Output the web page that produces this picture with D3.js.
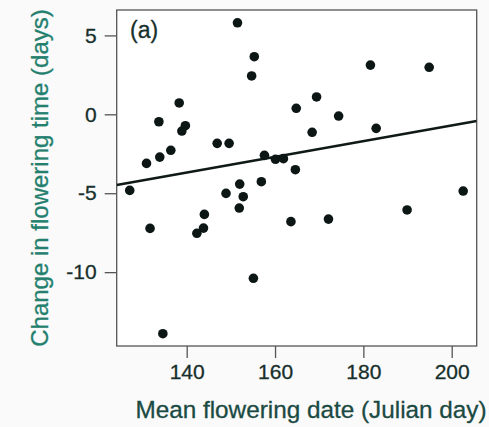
<!DOCTYPE html>
<html>
<head>
<meta charset="utf-8">
<script src="https://cdn.jsdelivr.net/npm/d3@7"></script>
<style>
  html, body { margin: 0; padding: 0; background: #fafafa; }
  svg { display: block; }
  text { font-family: "Liberation Sans", Arial, sans-serif; }
</style>
</head>
<body>
<svg id="chart" width="489" height="427"></svg>
<script>
// Data
const floweringDate = [151.5,155.3,154.7,181.6,194.9,138.3,169.4,164.8,174.4,133.7,139.7,138.9,182.9,168.4,146.9,149.6,136.4,133.9,130.9,157.6,160.1,161.9,164.6,156.9,152.0,148.9,152.8,127.1,202.6,151.9,144.0,143.8,142.3,131.7,163.6,172.1,189.9,155.1,134.6];
const changeDays    = [5.80,3.65,2.43,3.12,2.98,0.72,1.10,0.38,-0.11,-0.47,-0.72,-1.06,-0.89,-1.14,-1.84,-1.84,-2.28,-2.71,-3.11,-2.60,-2.85,-2.81,-3.51,-4.27,-4.42,-5.01,-5.22,-4.82,-4.86,-5.94,-6.34,-7.21,-7.54,-7.23,-6.80,-6.64,-6.06,-10.39,-13.90];
const fitX = [124.15, 205.66];
const fitY = [-4.48, -0.42];
const xTicks = [140, 160, 180, 200];
const yTicks = [5, 0, -5, -10];
const xDomain = [124.15, 205.66];
const yDomain = [-14.68, 6.61];
const panelLabel = "(a)";
const xTitle = "Mean flowering date (Julian day)";
const yTitle = "Change in flowering time (days)";

const svg = d3.select("#chart");
const L = 116.7, R = 476.7, T = 10, B = 346;

const x = d3.scaleLinear().domain(xDomain).range([L, R]);
const y = d3.scaleLinear().domain(yDomain).range([B, T]);

const axisColor = "#555";
const textColor = "#172f2b";

// frame
svg.append("rect").attr("x", L).attr("y", T).attr("width", R - L).attr("height", B - T)
  .attr("fill", "#ffffff").attr("stroke", axisColor).attr("stroke-width", 1.3);

// x axis
const gx = svg.append("g").attr("transform", `translate(0,${B})`)
  .call(d3.axisBottom(x).tickValues(xTicks).tickSize(12).tickSizeOuter(0).tickPadding(6).tickFormat(d3.format("d")));
gx.select(".domain").remove();
gx.selectAll("line").attr("stroke", axisColor).attr("stroke-width", 1.3);
gx.selectAll("text").attr("font-size", 21).attr("fill", textColor).attr("dy", "0.71em")
  .attr("stroke", textColor).attr("stroke-width", 0.3)
  .attr("font-family", "Liberation Sans, Arial, sans-serif");

// y axis
const gy = svg.append("g").attr("transform", `translate(${L},0)`)
  .call(d3.axisLeft(y).tickValues(yTicks).tickSize(12).tickSizeOuter(0).tickPadding(8)
    .tickFormat(d => d < 0 ? "-" + Math.abs(d) : String(d)));
gy.select(".domain").remove();
gy.selectAll("line").attr("stroke", axisColor).attr("stroke-width", 1.3);
gy.selectAll("text").attr("font-size", 21).attr("fill", textColor)
  .attr("stroke", textColor).attr("stroke-width", 0.3)
  .attr("font-family", "Liberation Sans, Arial, sans-serif");

// clip
svg.append("clipPath").attr("id", "clip").append("rect")
  .attr("x", L).attr("y", T).attr("width", R - L).attr("height", B - T);

// fit line
const fit = fitX.map((d, i) => [d, fitY[i]]);
svg.append("path").datum(fit)
  .attr("clip-path", "url(#clip)")
  .attr("d", d3.line().x(d => x(d[0])).y(d => y(d[1])))
  .attr("stroke", "#0f1a18").attr("stroke-width", 2.6).attr("fill", "none");

// points
svg.append("g").selectAll("circle")
  .data(floweringDate.map((d, i) => [d, changeDays[i]]))
  .join("circle")
  .attr("cx", d => x(d[0])).attr("cy", d => y(d[1])).attr("r", 4.8)
  .attr("fill", "#0c1715");

// panel label
svg.append("text").attr("x", 130).attr("y", 38).attr("font-size", 23)
  .attr("fill", textColor).attr("stroke", textColor).attr("stroke-width", 0.3).text(panelLabel);

// axis titles
svg.append("text").attr("x", 311).attr("y", 418).attr("text-anchor", "middle")
  .attr("font-size", 24.3).attr("fill", "#1b4a43").attr("stroke", "#1b4a43").attr("stroke-width", 0.3).text(xTitle);

svg.append("text").attr("transform", `translate(48,178) rotate(-90)`)
  .attr("text-anchor", "middle").attr("font-size", 24).attr("fill", "#24806e")
  .attr("stroke", "#24806e").attr("stroke-width", 0.3).text(yTitle);
</script>
</body>
</html>
